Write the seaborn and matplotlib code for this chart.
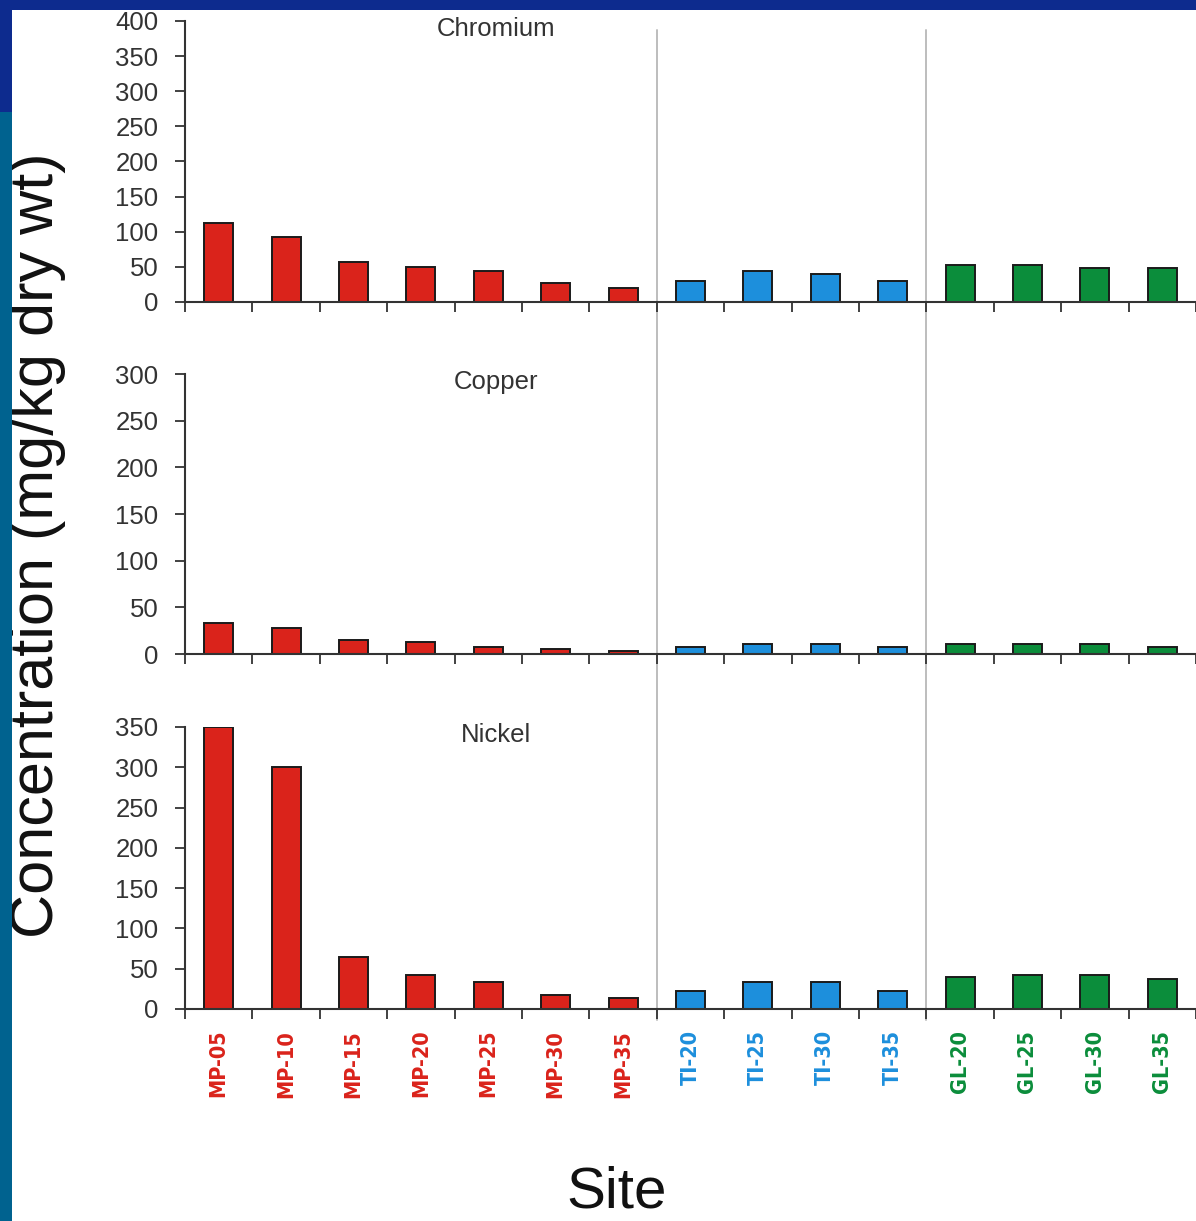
import numpy as np
import pandas as pd
import seaborn as sns
import matplotlib.pyplot as plt
from matplotlib import font_manager
from matplotlib.patches import Rectangle
from matplotlib.lines import Line2D
from matplotlib.ticker import FixedLocator, MultipleLocator
from matplotlib.transforms import blended_transform_factory

# === 1. Data ===
sites = ["MP-05", "MP-10", "MP-15", "MP-20", "MP-25", "MP-30", "MP-35",
         "TI-20", "TI-25", "TI-30", "TI-35",
         "GL-20", "GL-25", "GL-30", "GL-35"]
groups = ["MP"] * 7 + ["TI"] * 4 + ["GL"] * 4

chromium = [112, 92, 57, 50, 44, 27, 20, 30, 44, 40, 30, 53, 53, 49, 49]
copper = [33, 27.5, 15, 13, 8, 5.3, 3, 8, 10.7, 10.7, 8, 10.7, 10.7, 10.7, 8]
nickel = [350, 300, 65, 42.5, 34, 17, 14, 22.7, 34, 34, 22.7, 40, 42.6, 42.6, 37]

metals = ["Chromium", "Copper", "Nickel"]
y_max = [400, 300, 350]

group_colors = {"MP": "#da231b", "TI": "#1d8fdc", "GL": "#0b8d3b"}

df = pd.DataFrame({"site": sites, "group": groups,
                   "Chromium": chromium, "Copper": copper, "Nickel": nickel})

# === 2. Style ===
sns.set_theme(style="white")
plt.rcParams["font.family"] = ["Liberation Sans", "DejaVu Sans"]
plt.rcParams["axes.edgecolor"] = "#333333"

# site labels use a narrow bold face if one is available
narrow = dict(family="Liberation Sans", fontsize=14.5)
for fam in ["Liberation Sans Narrow", "DejaVu Sans"]:
    try:
        fp = font_manager.FontProperties(family=fam, weight="bold", stretch="condensed")
        path = font_manager.findfont(fp, fallback_to_default=False)
    except Exception:
        continue
    if "Narrow" in path or "Condensed" in path:
        narrow = dict(fontproperties=font_manager.FontProperties(fname=path, size=15.5))
        break

W, H = 1196, 1221
fig = plt.figure(figsize=(W / 100, H / 100), dpi=100)
fig.patch.set_facecolor("white")

# panel boxes in pixels: (top, bottom)
panel_px = [(21, 302), (374, 654), (727, 1009)]
left_px = 185

axes = []
for (top, bot), metal, ymax in zip(panel_px, metals, y_max):
    ax = fig.add_axes([left_px / W, 1 - bot / H, (W - left_px) / W, (bot - top) / H])
    ax.set_facecolor("none")
    sns.barplot(data=df, x="site", y=metal, hue="group", palette=group_colors,
                dodge=False, width=0.43, saturation=1, edgecolor="#1a1a1a",
                linewidth=1.4, legend=False, ax=ax)
    ax.set_xlim(-0.5, len(sites) - 0.5)
    ax.set_ylim(0, ymax)
    ax.yaxis.set_major_locator(MultipleLocator(50))
    ax.set_xlabel("")
    ax.set_ylabel("")
    for s in ["top", "right"]:
        ax.spines[s].set_visible(False)
    for s in ["left", "bottom"]:
        ax.spines[s].set_linewidth(1.5)
        ax.spines[s].set_color("#333333")
    ax.xaxis.set_minor_locator(FixedLocator(np.arange(-0.5, len(sites), 1.0)))
    ax.tick_params(axis="x", which="major", length=0, pad=15)
    ax.tick_params(axis="x", which="minor", bottom=True, length=7, width=1.3,
                   color="#333333", direction="out")
    ax.tick_params(axis="y", left=True, length=7, width=1.3, color="#333333",
                   direction="out", labelsize=18.5, labelcolor="#333333", pad=12)
    ax.text(0.308, 0.97, metal, transform=ax.transAxes, ha="center",
            va="center", fontsize=18.5, color="#333333")
    axes.append(ax)

for ax in axes[:-1]:
    ax.tick_params(axis="x", labelbottom=False)

# coloured, rotated site labels on the bottom panel
ax = axes[-1]
ax.set_xticks(range(len(sites)))
ax.set_xticklabels(sites, rotation=90, fontweight="bold", **narrow)
for lab, g in zip(ax.get_xticklabels(), groups):
    lab.set_color(group_colors[g])

# grey separators between site groups
trans = blended_transform_factory(axes[-1].transData, fig.transFigure)
for xb in [6.5, 10.5]:
    fig.add_artist(Line2D([xb, xb], [1 - 30 / H, 1 - 1020 / H], transform=trans,
                          color="#bdbdbd", linewidth=1.4, zorder=0))

# axis titles
fig.text(38 / W, 1 - 545 / H, "Concentration (mg/kg dry wt)", rotation=90,
         ha="center", va="center", fontsize=44, color="#111111")
fig.text(617 / W, 1 - 1193 / H, "Site", ha="center", va="center",
         fontsize=42, color="#111111")

# slide frame (top band and left strip)
fig.add_artist(Rectangle((0, 1 - 10 / H), 1, 10 / H, transform=fig.transFigure,
                         facecolor="#0d2b8e", edgecolor="none", zorder=10))
fig.add_artist(Rectangle((0, 1 - 112 / H), 12 / W, 112 / H, transform=fig.transFigure,
                         facecolor="#0d2b8e", edgecolor="none", zorder=10))
fig.add_artist(Rectangle((0, 0), 12 / W, 1 - 112 / H, transform=fig.transFigure,
                         facecolor="#00628f", edgecolor="none", zorder=10))

fig.savefig("out.png", dpi=100)
